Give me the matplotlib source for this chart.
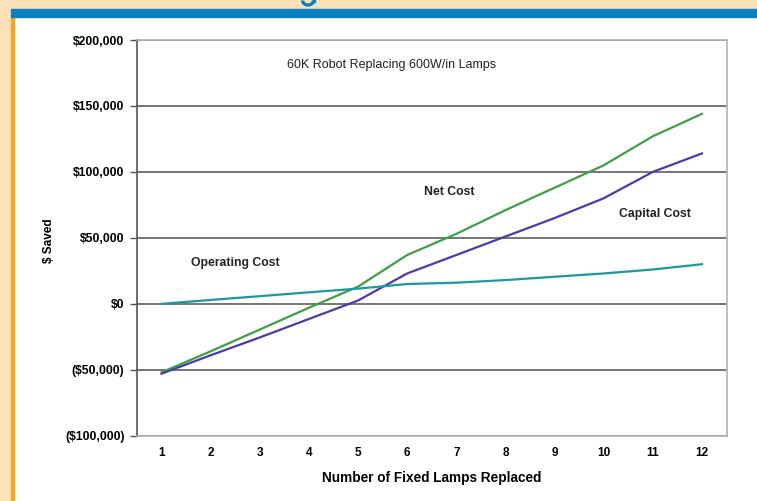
import matplotlib
matplotlib.use("Agg")
import matplotlib.pyplot as plt
from matplotlib.patches import Rectangle, Arc
from matplotlib.lines import Line2D
from matplotlib.ticker import FuncFormatter

plt.rcParams['font.family'] = ['Liberation Sans', 'DejaVu Sans']

lamps = [1, 2, 3, 4, 5, 6, 7, 8, 9, 10, 11, 12]
net_cost = [-52000, -36000, -19500, -3000, 13000, 37000, 53000, 71000, 88000, 105000, 127000, 144000]
capital_cost = [-53000, -39000, -25500, -11500, 2500, 23000, 37000, 51000, 65000, 80000, 100000, 114000]
operating_cost = [0, 2900, 5800, 8700, 11500, 15000, 16000, 18000, 20500, 23000, 26000, 30000]
y_ticks = [-100000, -50000, 0, 50000, 100000, 150000, 200000]

W, H = 757, 501
fig = plt.figure(figsize=(W / 100, H / 100), dpi=100)
fig.patch.set_facecolor('white')

def fx(px):
    return px / W

def fy(py):
    return 1 - py / H

# page decoration
fig.add_artist(Rectangle((0, 0), fx(11), 1, transform=fig.transFigure, color='#fde1b9', zorder=0))
fig.add_artist(Rectangle((fx(11), 0), fx(2.5), fy(17), transform=fig.transFigure, color='#f5a623', zorder=1))
fig.add_artist(Rectangle((0, fy(9)), 1, 9 / H, transform=fig.transFigure, color='#fde1b9', zorder=0))
fig.add_artist(Rectangle((fx(11), fy(17)), 1, 8 / H, transform=fig.transFigure, color='#0a7fc2', zorder=1))
# descender of a cut-off heading glyph above the blue bar
fig.add_artist(Arc((fx(308), fy(0.5)), fx(11), 9 / H, theta1=180, theta2=360,
                   transform=fig.transFigure, color='#0a7fc2', lw=2.4, zorder=2))
fig.add_artist(Line2D([fx(313.5), fx(313.5)], [fy(0.5), 1], transform=fig.transFigure,
                      color='#0a7fc2', lw=2.4, zorder=2))

ax = fig.add_axes([fx(137), fy(435.7), (726.5 - 137) / W, (435.7 - 40) / H])
ax.set_facecolor('white')

x = list(range(len(lamps)))
ax.plot(x, net_cost, color='#3f9f45', lw=1.6, zorder=3)
ax.plot(x, capital_cost, color='#4a3ca8', lw=1.6, zorder=3)
ax.plot(x, operating_cost, color='#1a9aa0', lw=1.6, zorder=3)

ax.set_xlim(-0.5, len(lamps) - 0.5)
ax.set_ylim(-100000, 200000)
ax.set_xticks(x)
ax.set_xticklabels([str(v) for v in lamps], fontsize=8.5, fontweight='bold')
ax.set_yticks(y_ticks)

def money(v, pos):
    if v < 0:
        return "(${:,.0f})".format(-v)
    return "${:,.0f}".format(v)

ax.yaxis.set_major_formatter(FuncFormatter(money))
for lbl in ax.get_yticklabels():
    lbl.set_fontsize(8.8)
    lbl.set_fontweight('bold')
ax.tick_params(axis='y', length=5, width=1, color='#555555', pad=4)
ax.tick_params(axis='x', length=0, pad=8)

ax.grid(axis='y', color='#6a6a6a', lw=1.3, zorder=1)
for s in ['top', 'right', 'bottom']:
    ax.spines[s].set_color('#b8b2b0')
    ax.spines[s].set_linewidth(1.2)
ax.spines['left'].set_color('#555555')
ax.spines['left'].set_linewidth(1.2)

ax.set_xlabel("Number of Fixed Lamps Replaced", fontsize=9.8, fontweight='bold', labelpad=9)
fig.text(fx(49), fy(241), "$ Saved", rotation=90, fontsize=8.5, fontweight='bold', ha='center', va='center')

ax.text(0.431, 0.937, "60K Robot Replacing 600W/in Lamps", transform=ax.transAxes, fontsize=9, ha='center', va='center', color='#222222')
ax.text(0.529, 0.616, "Net Cost", transform=ax.transAxes, fontsize=8.8, fontweight='bold', ha='center', va='center', color='#222222')
ax.text(0.878, 0.560, "Capital Cost", transform=ax.transAxes, fontsize=8.8, fontweight='bold', ha='center', va='center', color='#222222')
ax.text(0.166, 0.4365, "Operating Cost", transform=ax.transAxes, fontsize=8.8, fontweight='bold', ha='center', va='center', color='#222222')

fig.savefig("out.png", dpi=100, facecolor=fig.get_facecolor())
